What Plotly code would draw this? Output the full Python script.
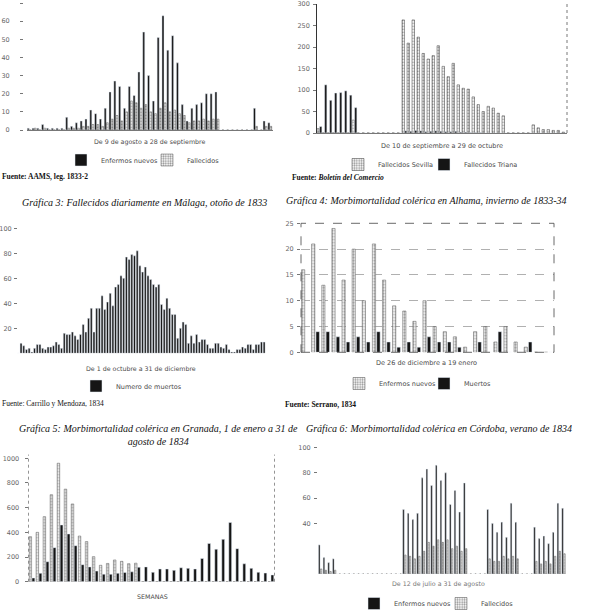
import plotly.graph_objects as go

W = H = 610

# ---------------- data ----------------
# Gráfica 1: 9 agosto - 28 septiembre (51 días)
c1_days = list(range(1, 52))
c1_enfermos = [1, 1, 1, 3, 1, 1, 1, 1, 7, 2, 4, 5, 6, 11, 9, 6, 12,
               21, 27, 24, 12, 24, 19, 32, 54, 30, 16,
               51, 63, 44, 52, 37, 14, 5, 12, 14, 15, 20, 20, 21,
               0, 0, 0, 0, 0, 0, 0, 12, 0, 5, 4]
c1_fallecidos = [0, 1, 0, 1, 0, 0, 0, 0, 1, 1, 1, 2, 2, 3, 3, 2, 4,
                 6, 8, 5, 10, 16, 15, 12, 14, 10, 9,
                 12, 15, 10, 11, 9, 8, 4, 5, 5, 6, 5, 6, 6,
                 0, 0, 0, 0, 0, 0, 0, 2, 0, 2, 2]

# Gráfica 2: 10 septiembre - 29 octubre (50 días)
c2_days = list(range(1, 51))
c2_sevilla = [10, 0, 0, 0, 0, 0, 0, 30,
              0, 0, 0, 0, 0, 0, 0, 0, 0,
              263, 209, 263, 223, 185, 172, 180, 203, 155, 131, 162, 112, 104,
              102, 84, 66, 50, 62, 58, 46, 40,
              0, 0, 0, 0, 0,
              19, 12, 8, 8, 6, 6, 2]
c2_triana = [15, 112, 76, 93, 94, 98, 88, 59,
             0, 0, 0, 0, 0, 0, 0, 0, 0,
             5, 4, 6, 5, 3, 4, 5, 4, 3, 3, 4, 2, 2, 1, 1, 1, 0, 0, 0, 0, 0,
             0, 0, 0, 0, 0, 0, 0, 0, 0, 0, 0, 0]

# Gráfica 3: Málaga, 1 octubre - 31 diciembre
c3_days = list(range(1, 93))
c3_muertos = [0, 8, 6, 3, 4, 1, 4, 7, 7,
              4, 3, 5, 5, 6, 9, 7, 4,
              16, 15, 15, 17, 14, 11, 15, 23, 17, 28,
              36, 17, 36, 36, 46, 35, 41, 48, 38, 53,
              55, 62, 60, 77, 75, 79, 78, 82, 70, 65,
              69, 62, 59, 55, 53, 55, 39, 35, 44, 36,
              31, 31, 12, 20, 25, 23, 8, 14, 8, 15,
              9, 11, 11, 7, 4, 4, 8, 8, 5, 4,
              7, 3, 1, 1, 3, 3, 5, 4, 7, 7,
              3, 7, 7, 9, 9]

# Gráfica 4: Alhama, 26 diciembre - 19 enero
c4_days = list(range(1, 26))
c4_enfermos = [16, 21, 13, 24, 14, 20, 10, 21, 14, 9, 8, 6, 10, 5, 4, 3, 1,
               4, 5, 2, 5, 2, 1, 0, 0]
c4_muertos = [0, 4, 4, 3, 2, 3, 2, 4, 2, 1, 2, 1, 3, 2, 2, 1, 0,
              2, 0, 4, 0, 0, 2, 0, 0]

# Gráfica 5: Granada, semanas
c5_weeks = list(range(1, 36))
c5_enfermos = [365, 400, 527, 705, 960, 750, 630, 370, 325, 203, 133, 148,
               176, 165, 146, 150,
               0, 0, 0, 0, 0, 0, 0, 0, 0, 0, 0, 0, 0, 0, 0, 0, 0, 0, 0]
c5_muertos = [30, 68, 162, 276, 460, 387, 292, 138, 120, 86, 61, 60, 68, 75,
              80, 117, 120, 76, 103, 103, 92, 113, 108, 103, 188, 310, 263,
              343, 480, 268, 145, 108, 76, 70, 55]

# Gráfica 6: Córdoba, verano 1834
c6_days = list(range(1, 54))
c6_enfermos = [23, 13, 9, 12,
               0, 0, 0, 0, 0, 0, 0, 0, 0, 0, 0, 0, 0, 0,
               51, 48, 43, 48, 76, 83, 70, 86, 74, 80, 55, 66, 49, 72,
               0, 0, 0, 0,
               51, 40, 33, 41, 29, 56, 41,
               0, 0, 0,
               37, 28, 30, 24, 33, 56, 52]
c6_fallecidos = [4, 3, 2, 3,
                 0, 0, 0, 0, 0, 0, 0, 0, 0, 0, 0, 0, 0, 0,
                 15, 14, 12, 14, 18, 25, 22, 27, 25, 27, 20, 22, 18, 20,
                 0, 0, 0, 0,
                 12, 10, 10, 14, 12, 14, 12,
                 0, 0, 0,
                 10, 8, 10, 8, 14, 18, 16]

# ---------------- styling helpers ----------------
BLACK = "#151515"
TXT = "#4a4a4a"
SANS = "DejaVu Sans"
SERIF = "Liberation Serif"


def dotted(line="#5a5a5a"):
    return dict(color="white", line=dict(color=line, width=0.5),
                pattern=dict(shape=".", fgcolor="#2a2a2a", bgcolor="white",
                             size=3, solidity=0.45))


def xd(a, b):
    return [a / W, b / W]


def yd(top, bottom):
    return [1 - bottom / H, 1 - top / H]


fig = go.Figure()


def bar(x, y, name, ax, legend, width, offset, marker, show=True):
    fig.add_trace(go.Bar(x=x, y=y, name=name, xaxis="x" + ax, yaxis="y" + ax,
                         width=width, offset=offset, marker=marker,
                         legend=legend, showlegend=show))


# chart 1
bar(c1_days, c1_enfermos, "Enfermos nuevos", "", "legend", 0.42, -0.46, dict(color=BLACK))
bar(c1_days, c1_fallecidos, "Fallecidos", "", "legend2", 0.38, 0.0, dotted())
# chart 2
bar(c2_days, c2_sevilla, "Fallecidos Sevilla", "2", "legend3", 0.5, -0.5, dotted("#444"))
bar(c2_days, c2_triana, "Fallecidos Triana", "2", "legend4", 0.45, 0.02, dict(color=BLACK))
# chart 3
bar(c3_days, c3_muertos, "Numero de muertos", "3", "legend5", 0.72, -0.36, dict(color=BLACK))
# chart 4
bar(c4_days, c4_enfermos, "Enfermos nuevos", "4", "legend6", 0.32, -0.45, dotted())
bar(c4_days, c4_muertos, "Muertos", "4", "legend7", 0.34, -0.02, dict(color=BLACK))
# chart 5 (its legend lies below the cut of the page, so it is not shown)
bar(c5_weeks, c5_enfermos, "Enfermos nuevos", "5", "legend", 0.36, -0.42, dotted(), show=False)
bar(c5_weeks, c5_muertos, "Muertos", "5", "legend", 0.4, 0.0, dict(color=BLACK), show=False)
# chart 6
bar(c6_days, c6_enfermos, "Enfermos nuevos", "6", "legend8", 0.34, -0.4, dict(color=BLACK))
bar(c6_days, c6_fallecidos, "Fallecidos", "6", "legend9", 0.3, 0.02, dotted())

TICKFONT = dict(family=SANS, size=6.5, color="#666")


def xaxis(dom, n, line=False, start=1):
    return dict(domain=xd(*dom), range=[start - 0.5, start - 0.5 + n], showticklabels=False,
                ticks="", showgrid=False, zeroline=False, showline=line,
                linecolor="#777", linewidth=0.7, fixedrange=True)


def yaxis(dom, rng, tickvals, anchor, pos=None, line=False, ticklen=3, standoff=2, **kw):
    d = dict(domain=yd(*dom), range=rng, tickvals=tickvals, tickfont=TICKFONT,
             ticks="outside", ticklen=ticklen, tickcolor="#777", tickwidth=0.7,
             showgrid=False, zeroline=False, showline=line, linecolor="#333",
             linewidth=0.8, ticklabelstandoff=standoff, fixedrange=True)
    if pos is not None:
        d["anchor"] = "free"
        d["position"] = pos / W
    else:
        d["anchor"] = anchor
    d.update(kw)
    return d


fig.update_layout(
    width=W, height=H, autosize=False,
    margin=dict(l=0, r=0, t=0, b=0, autoexpand=False),
    paper_bgcolor="white", plot_bgcolor="white",
    barmode="overlay",
    xaxis=xaxis((27, 272.5), 51, line=True),
    yaxis=yaxis((3, 130), [0, 70], list(range(0, 71, 10)), "x", pos=23, standoff=9),
    xaxis2=xaxis((317, 567), 50, line=True),
    yaxis2=yaxis((4, 133), [0, 300], list(range(0, 301, 50)), "x2", line=True),
    xaxis3=xaxis((17, 265.5), 92),
    yaxis3=yaxis((228.3, 353.3), [0, 100], [20, 40, 60, 80, 100], "x3", pos=17, standoff=1),
    xaxis4=xaxis((301, 554), 25),
    yaxis4=yaxis((223.3, 352.3), [0, 25], list(range(0, 26, 5)), "x4",
                 showgrid=True, griddash="dash", gridcolor="#b0b0b0", gridwidth=0.5),
    xaxis5=xaxis((28.5, 274.5), 35),
    yaxis5=yaxis((458.3, 581.7), [0, 1000], list(range(0, 1001, 200)), "x5", standoff=4),
    xaxis6=xaxis((318, 566), 53),
    yaxis6=yaxis((447.5, 574), [0, 100], [40, 60, 80, 100], "x6"),
    showlegend=True,
)

# x-axis anchors
for i in range(2, 7):
    fig.layout["xaxis%d" % i].anchor = "y%d" % i
fig.layout.xaxis.anchor = "y"

# legends: (key, swatch centre x, centre y) in pixels
legend_specs = [
    ("legend", 86, 160), ("legend2", 172, 160),
    ("legend3", 363, 164.5), ("legend4", 449, 164.5),
    ("legend5", 101, 386),
    ("legend6", 364, 383.5), ("legend7", 449, 383.5),
    ("legend8", 379, 603.5), ("legend9", 466, 603.5),
]
for key, sx, sy in legend_specs:
    fig.layout[key] = dict(x=(sx - 25) / W, y=1 - sy / H, xanchor="left", yanchor="middle",
                           xref="container", yref="container",
                           bgcolor="rgba(0,0,0,0)", borderwidth=0,
                           font=dict(family=SANS, size=6.5, color=TXT), itemwidth=30)

# frames / dashed lines
shapes = [
    dict(type="line", xref="x2 domain", yref="y2 domain", x0=1, x1=1, y0=0, y1=1.0,
         line=dict(color="#555", width=0.8, dash="dot")),
    dict(type="rect", xref="x4 domain", yref="y4 domain", x0=0, x1=1, y0=0, y1=1,
         line=dict(color="#444", width=0.8, dash="dash")),
    dict(type="line", xref="x5 domain", yref="y5 domain", x0=0, x1=0, y0=0, y1=1.03,
         line=dict(color="#666", width=0.7, dash="dot")),
    dict(type="line", xref="x5 domain", yref="y5 domain", x0=1, x1=1, y0=0, y1=1.03,
         line=dict(color="#666", width=0.7, dash="dot")),
]
fig.update_layout(shapes=shapes)


def ann(text, x, y, size, family=SANS, color=TXT, xanchor="center", **kw):
    fig.add_annotation(text=text, x=x / W, y=1 - y / H, xref="paper", yref="paper",
                       showarrow=False, xanchor=xanchor, yanchor="middle",
                       font=dict(family=family, size=size, color=color), **kw)


# axis captions
ann("De 9 de agosto a 28 de septiembre", 149, 142, 6.3)
ann("De 10 de septiembre a 29 de octubre", 442, 146.3, 6.5)
ann("De 1 de octubre a 31 de diciembre", 141, 368.3, 6.3)
ann("De 26 de diciembre a 19 enero", 426, 363.3, 6.5)
ann("SEMANAS", 152, 596, 6.3)
ann("De 12 de julio a 31 de agosto", 438, 584.3, 6.3, color="#777")

# titles
TF = "Liberation Serif"
TS = 10
ann("<i>Gráfica 3: Fallecidos diariamente en Málaga, otoño de 1833</i>", 20, 202, TS,
    family=TF, color="#111", xanchor="left")
ann("<i>Gráfica 4: Morbimortalidad colérica en Alhama, invierno de 1833-34</i>", 284, 200.5, TS,
    family=TF, color="#111", xanchor="left")
ann("<i>Gráfica 5: Morbimortalidad colérica en Granada, 1 de enero a 31 de<br>agosto de 1834</i>",
    158, 435, TS, family=TF, color="#111")
ann("<i>Gráfica 6: Morbimortalidad colérica en Córdoba, verano de 1834</i>", 304, 428, TS,
    family=TF, color="#111", xanchor="left")

# sources
ann("<b>Fuente: AAMS, leg. 1833-2</b>", 0, 177, 7.5, family=SERIF, color="#111", xanchor="left")
ann("<b>Fuente: <i>Boletín del Comercio</i></b>", 290, 177.5, 7.5, family=SERIF, color="#111",
    xanchor="left")
ann("Fuente: Carrillo y Mendoza, 1834", 0, 403.5, 7.5, family=SERIF, color="#111", xanchor="left")
ann("<b>Fuente: Serrano, 1834</b>", 283, 404.5, 7.5, family=SERIF, color="#111", xanchor="left")

fig.write_html("out.html", config={"displayModeBar": False},
               post_script="document.body.style.margin='0';")
